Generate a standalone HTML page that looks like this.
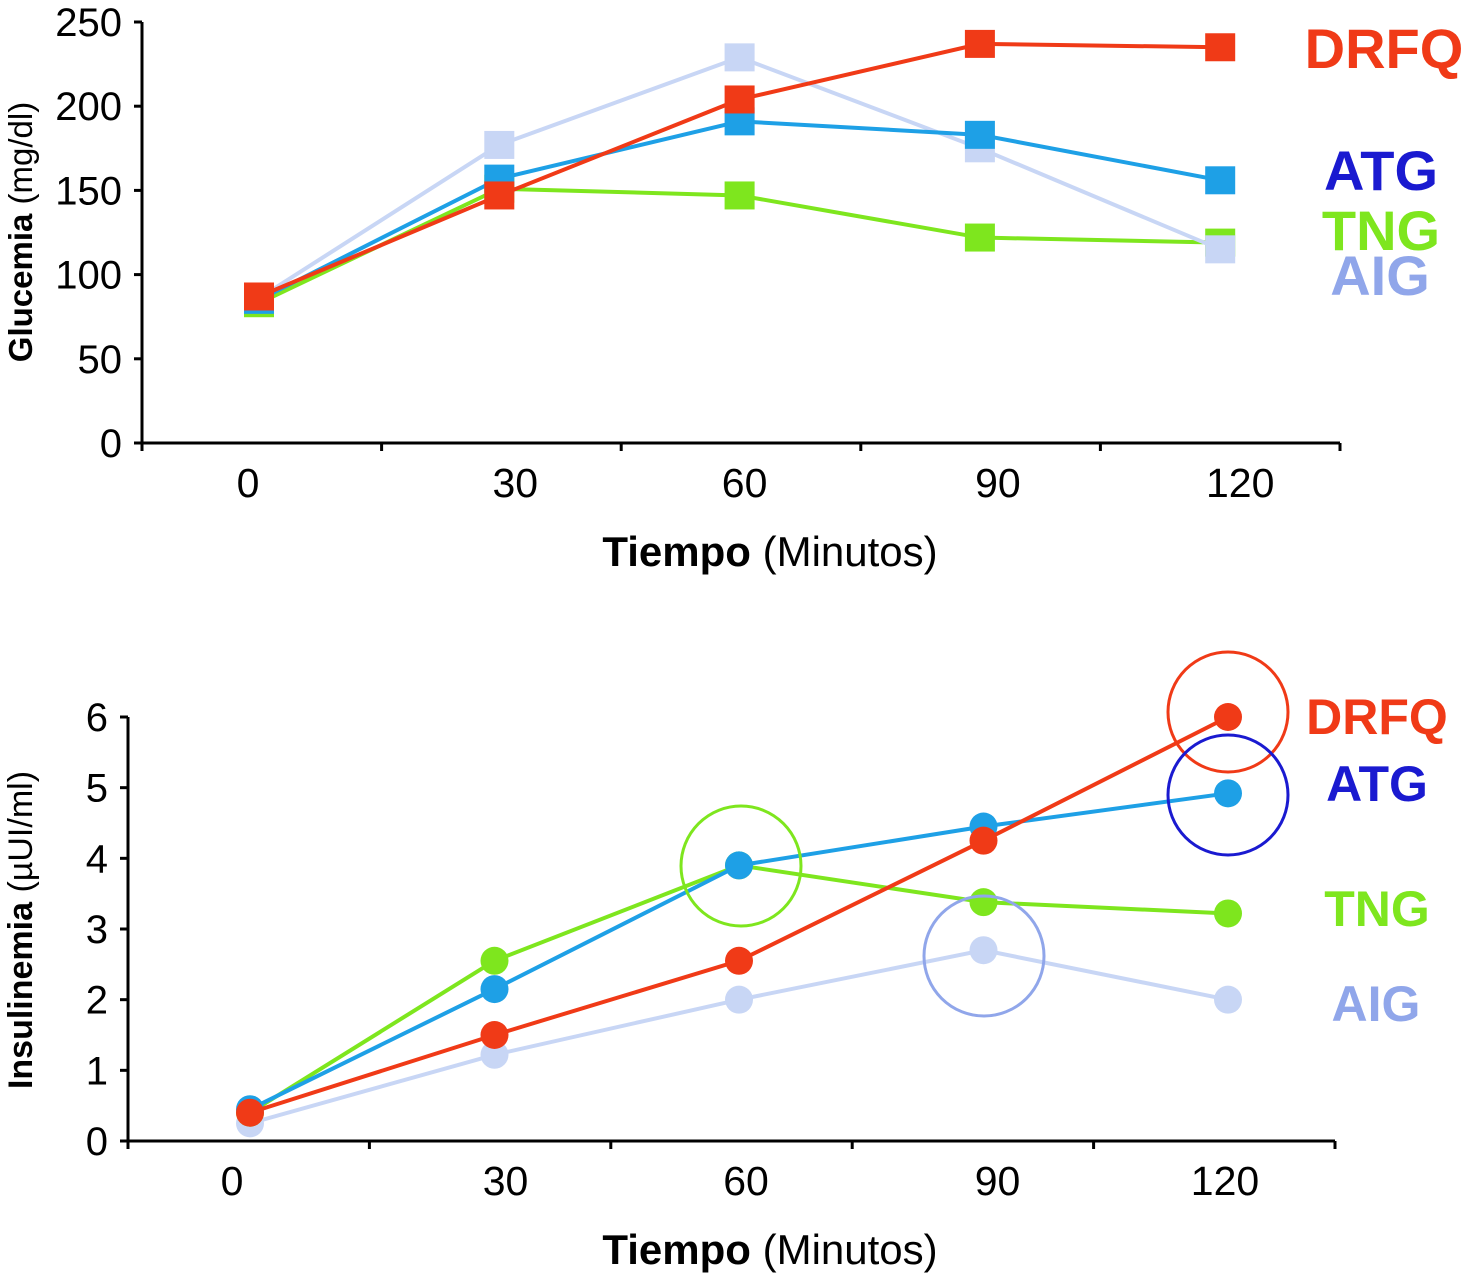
<!DOCTYPE html>
<html><head><meta charset="utf-8"><style>
body{margin:0;background:#fff}
svg{display:block;font-family:"Liberation Sans",Arial,sans-serif}
</style></head><body>
<svg width="1465" height="1278" viewBox="0 0 1465 1278">
<g id="top"></g>
<g id="bot"></g>
</svg>
<script>
const times=[0,30,60,90,120];
const gluTicks=[0,50,100,150,200,250];
const gluDRFQ=[87,147,204,237,235];
const gluATG=[85,157,191,183,156];
const gluTNG=[83,151,147,122,119];
const gluAIG=[86,177,229,175,115];
const insTicks=[0,1,2,3,4,5,6];
const insDRFQ=[0.4,1.5,2.55,4.25,6.0];
const insATG=[0.45,2.15,3.9,4.45,4.92];
const insTNG=[0.4,2.55,3.9,3.38,3.22];
const insAIG=[0.25,1.22,2.0,2.7,2.0];
const NS="http://www.w3.org/2000/svg";
function mk(p,t,a,txt){const e=document.createElementNS(NS,t);for(const k in a)e.setAttribute(k,a[k]);if(txt!==undefined)e.textContent=txt;p.appendChild(e);return e;}
const C={DRFQ:"#f03a17",ATG:"#1ea0e6",TNG:"#7ee61e",AIG:"#c8d6f5"};
const LC={DRFQ:"#f03a17",ATG:"#1a1ad0",TNG:"#7ee61e",AIG:"#90a6ea"};

function chart(g,cfg){
  const xs=t=>cfg.x0+t/30*cfg.dx;
  const ys=v=>cfg.yb-(v-0)/cfg.ymax*(cfg.yb-cfg.yt);
  let e=mk(g,"line",{x1:cfg.ax,y1:cfg.yt,x2:cfg.ax,y2:cfg.yb,stroke:"#000","stroke-width":3});
  
  e=mk(g,"line",{x1:cfg.ax,y1:cfg.yb,x2:cfg.axEnd,y2:cfg.yb,stroke:"#000","stroke-width":3});
  
  cfg.ticks.forEach(v=>{
    mk(g,"line",{x1:cfg.ax-8,y1:ys(v),x2:cfg.ax,y2:ys(v),stroke:"#000","stroke-width":3});
    e=mk(g,"text",{x:cfg.ax-20,y:ys(v)+14,"text-anchor":"end","font-size":40},v);
    
  });
  for(let i=0;i<=5;i++){const x=cfg.ax+i*(cfg.axEnd-cfg.ax)/5;mk(g,"line",{x1:x,y1:cfg.yb,x2:x,y2:cfg.yb+8,stroke:"#000","stroke-width":3});}
  times.forEach((t,i)=>{e=mk(g,"text",{x:xs(t)+cfg.lblOff[i],y:cfg.yb+54,"text-anchor":"middle","font-size":41},t);
    });
  e=mk(g,"text",{x:770,y:cfg.yb+123,"text-anchor":"middle","font-size":42});
  
  mk(e,"tspan",{"font-weight":"bold"},"Tiempo");mk(e,"tspan",{}," (Minutos)");
  e=mk(g,"text",{transform:`translate(32,${cfg.ytc}) rotate(-90)`,"text-anchor":"middle","font-size":cfg.yfs});
  
  mk(e,"tspan",{"font-weight":"bold"},cfg.yTitle);mk(e,"tspan",{},cfg.yUnit);
  cfg.order.forEach(k=>{
    const d=cfg.series[k];
    const pl=mk(g,"polyline",{points:d.map((v,i)=>xs(times[i])+","+ys(v)).join(" "),fill:"none",stroke:C[k],"stroke-width":4});
    
    d.forEach((v,i)=>{
      let m;
      if(cfg.square) m=mk(g,"rect",{x:xs(times[i])-15,y:ys(v)-14,width:30,height:28,fill:C[k]});
      else m=mk(g,"circle",{cx:xs(times[i]),cy:ys(v),r:14,fill:C[k]});
      
    });
  });
  cfg.labels.forEach(([k,x,y])=>{e=mk(g,"text",{x:x,y:y,"text-anchor":"middle","font-size":cfg.lfs,"font-weight":"bold",fill:LC[k]},k);
    });
}
chart(document.getElementById("top"),{x0:259,dx:240.3,ax:142,axEnd:1340,yt:22,yb:443,ymax:250,ticks:gluTicks,
  lblOff:[-11,16,5,18,20],yTitle:"Glucemia",yUnit:" (mg/dl)",ytc:232,yfs:33,square:true,
  series:{AIG:gluAIG,TNG:gluTNG,ATG:gluATG,DRFQ:gluDRFQ},order:["TNG","AIG","ATG","DRFQ"],
  labels:[["DRFQ",1384,68],["ATG",1381,190],["TNG",1381,250],["AIG",1380,295]],lfs:56});
chart(document.getElementById("bot"),{x0:250,dx:244.5,ax:128,axEnd:1335,yt:717,yb:1141,ymax:6,ticks:insTicks,
  lblOff:[-18,11,7,14,-3],yTitle:"Insulinemia",yUnit:" (\u00b5UI/ml)",ytc:930,yfs:34,square:false,
  series:{AIG:insAIG,TNG:insTNG,ATG:insATG,DRFQ:insDRFQ},order:["AIG","TNG","ATG","DRFQ"],
  labels:[["DRFQ",1377,734],["ATG",1377,801],["TNG",1377,926],["AIG",1376,1021]],lfs:50});
const g=document.getElementById("bot");
[[1228,712,"#f03a17"],[1228,795,"#1a1ad0"],[741,866,"#7ee61e"],[984,956,"#90a6ea"]].forEach(c=>{
  const e=mk(g,"circle",{cx:c[0],cy:c[1],r:60,fill:"none",stroke:c[2],"stroke-width":3});
  
});
</script>
</body></html>
